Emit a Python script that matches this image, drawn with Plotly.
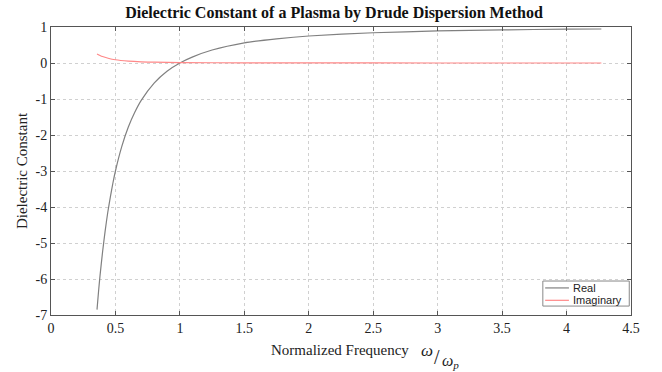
import plotly.graph_objects as go

# Real part of dielectric constant
real_x = [0.357, 0.37, 0.38, 0.40, 0.42, 0.44, 0.46, 0.48, 0.50, 0.55, 0.60, 0.65, 0.70, 0.80, 0.90, 1.00,
          1.10, 1.25, 1.50, 1.75, 2.00, 2.50, 3.00, 3.50, 4.00, 4.27]
real_y = [-6.85, -6.3, -5.92, -5.25, -4.67, -4.16, -3.73, -3.34, -3.0, -2.31, -1.78, -1.37, -1.04, -0.56, -0.23, 0.0,
          0.17, 0.36, 0.56, 0.67, 0.75, 0.84, 0.89, 0.92, 0.94, 0.945]

# Imaginary part
imag_x = [0.357, 0.38, 0.40, 0.45, 0.50, 0.60, 0.70, 0.80, 1.00, 1.50, 2.00, 3.00, 4.00, 4.27]
imag_y = [0.25, 0.21, 0.18, 0.125, 0.09, 0.053, 0.033, 0.022, 0.011, 0.0035, 0.0015, 0.0005, 0.0002, 0.0002]

x_ticks = [0, 0.5, 1, 1.5, 2, 2.5, 3, 3.5, 4, 4.5]
x_tick_text = ["0", "0.5", "1", "1.5", "2", "2.5", "3", "3.5", "4", "4.5"]
y_ticks = [-7, -6, -5, -4, -3, -2, -1, 0, 1]
y_tick_text = ["-7", "-6", "-5", "-4", "-3", "-2", "-1", "0", "1"]

series_names = ["Real", "Imaginary"]
series_colors = ["#808080", "#ff8888"]

fig = go.Figure()
fig.add_trace(go.Scatter(x=real_x, y=real_y, mode="lines", name=series_names[0], showlegend=False,
                         line=dict(color=series_colors[0], width=1.2, shape="spline", smoothing=0.6)))
fig.add_trace(go.Scatter(x=imag_x, y=imag_y, mode="lines", name=series_names[1], showlegend=False,
                         line=dict(color=series_colors[1], width=1.2, shape="spline", smoothing=0.6)))

serif = "Liberation Serif, Times New Roman, serif"
sans = "Liberation Sans, Arial, sans-serif"
axis_common = dict(showline=True, linecolor="#555", linewidth=1, mirror="ticks",
                   ticks="inside", ticklen=4, tickcolor="#555",
                   showgrid=True, gridcolor="#d0d0d0", griddash="dot", gridwidth=1,
                   zeroline=False, tickfont=dict(family=serif, size=14, color="#222"))

# Manual legend (box, sample lines, labels) in paper coordinates
shapes = [dict(type="rect", xref="paper", yref="paper", x0=0.848, x1=0.997, y0=0.031, y1=0.118,
               line=dict(color="#888", width=1), fillcolor="white", layer="above")]
annotations = []
for i, (nm, col) in enumerate(zip(series_names, series_colors)):
    yy = 0.094 - i * 0.043
    shapes.append(dict(type="line", xref="paper", yref="paper", x0=0.852, x1=0.893, y0=yy, y1=yy,
                       line=dict(color=col, width=1.2), layer="above"))
    annotations.append(dict(xref="paper", yref="paper", x=0.896, y=yy, text=nm, showarrow=False,
                            xanchor="left", yanchor="middle",
                            font=dict(family=sans, size=11, color="#222")))

# X axis label built from pieces (fraction-like omega / omega_p)
def px(xp):
    return (xp - 51) / 580

def py(yp):
    return -(yp - 315) / 288

annotations += [
    dict(xref="paper", yref="paper", x=px(340), y=py(350), text="Normalized Frequency",
         showarrow=False, xanchor="center", yanchor="middle", font=dict(family=serif, size=15, color="#222")),
    dict(xref="paper", yref="paper", x=px(427), y=py(350), text="<i>ω</i>",
         showarrow=False, xanchor="center", yanchor="middle", font=dict(family=serif, size=17, color="#222")),
    dict(xref="paper", yref="paper", x=px(436.5), y=py(357), text="/",
         showarrow=False, xanchor="center", yanchor="middle", font=dict(family=serif, size=20, color="#222")),
    dict(xref="paper", yref="paper", x=px(450), y=py(361), text="<i>ω</i><sub><i>p</i></sub>",
         showarrow=False, xanchor="center", yanchor="middle", font=dict(family=serif, size=16, color="#222")),
]

fig.update_layout(
    width=662, height=372,
    margin=dict(l=51, r=31, t=27, b=57),
    paper_bgcolor="white", plot_bgcolor="white",
    title=dict(text="<b>Dielectric Constant of a Plasma by Drude Dispersion Method</b>",
               x=(334 - 0) / 662, xanchor="center", y=0.968, yanchor="middle",
               font=dict(family=serif, size=16, color="#111")),
    xaxis=dict(range=[0, 4.5], tickvals=x_ticks, ticktext=x_tick_text, **axis_common),
    yaxis=dict(range=[-7, 1], tickvals=y_ticks, ticktext=y_tick_text,
               title=dict(text="Dielectric Constant",
                          font=dict(family=serif, size=15, color="#222"), standoff=4),
               **axis_common),
    shapes=shapes,
    annotations=annotations,
    showlegend=False,
)

fig.write_html("out.html")
